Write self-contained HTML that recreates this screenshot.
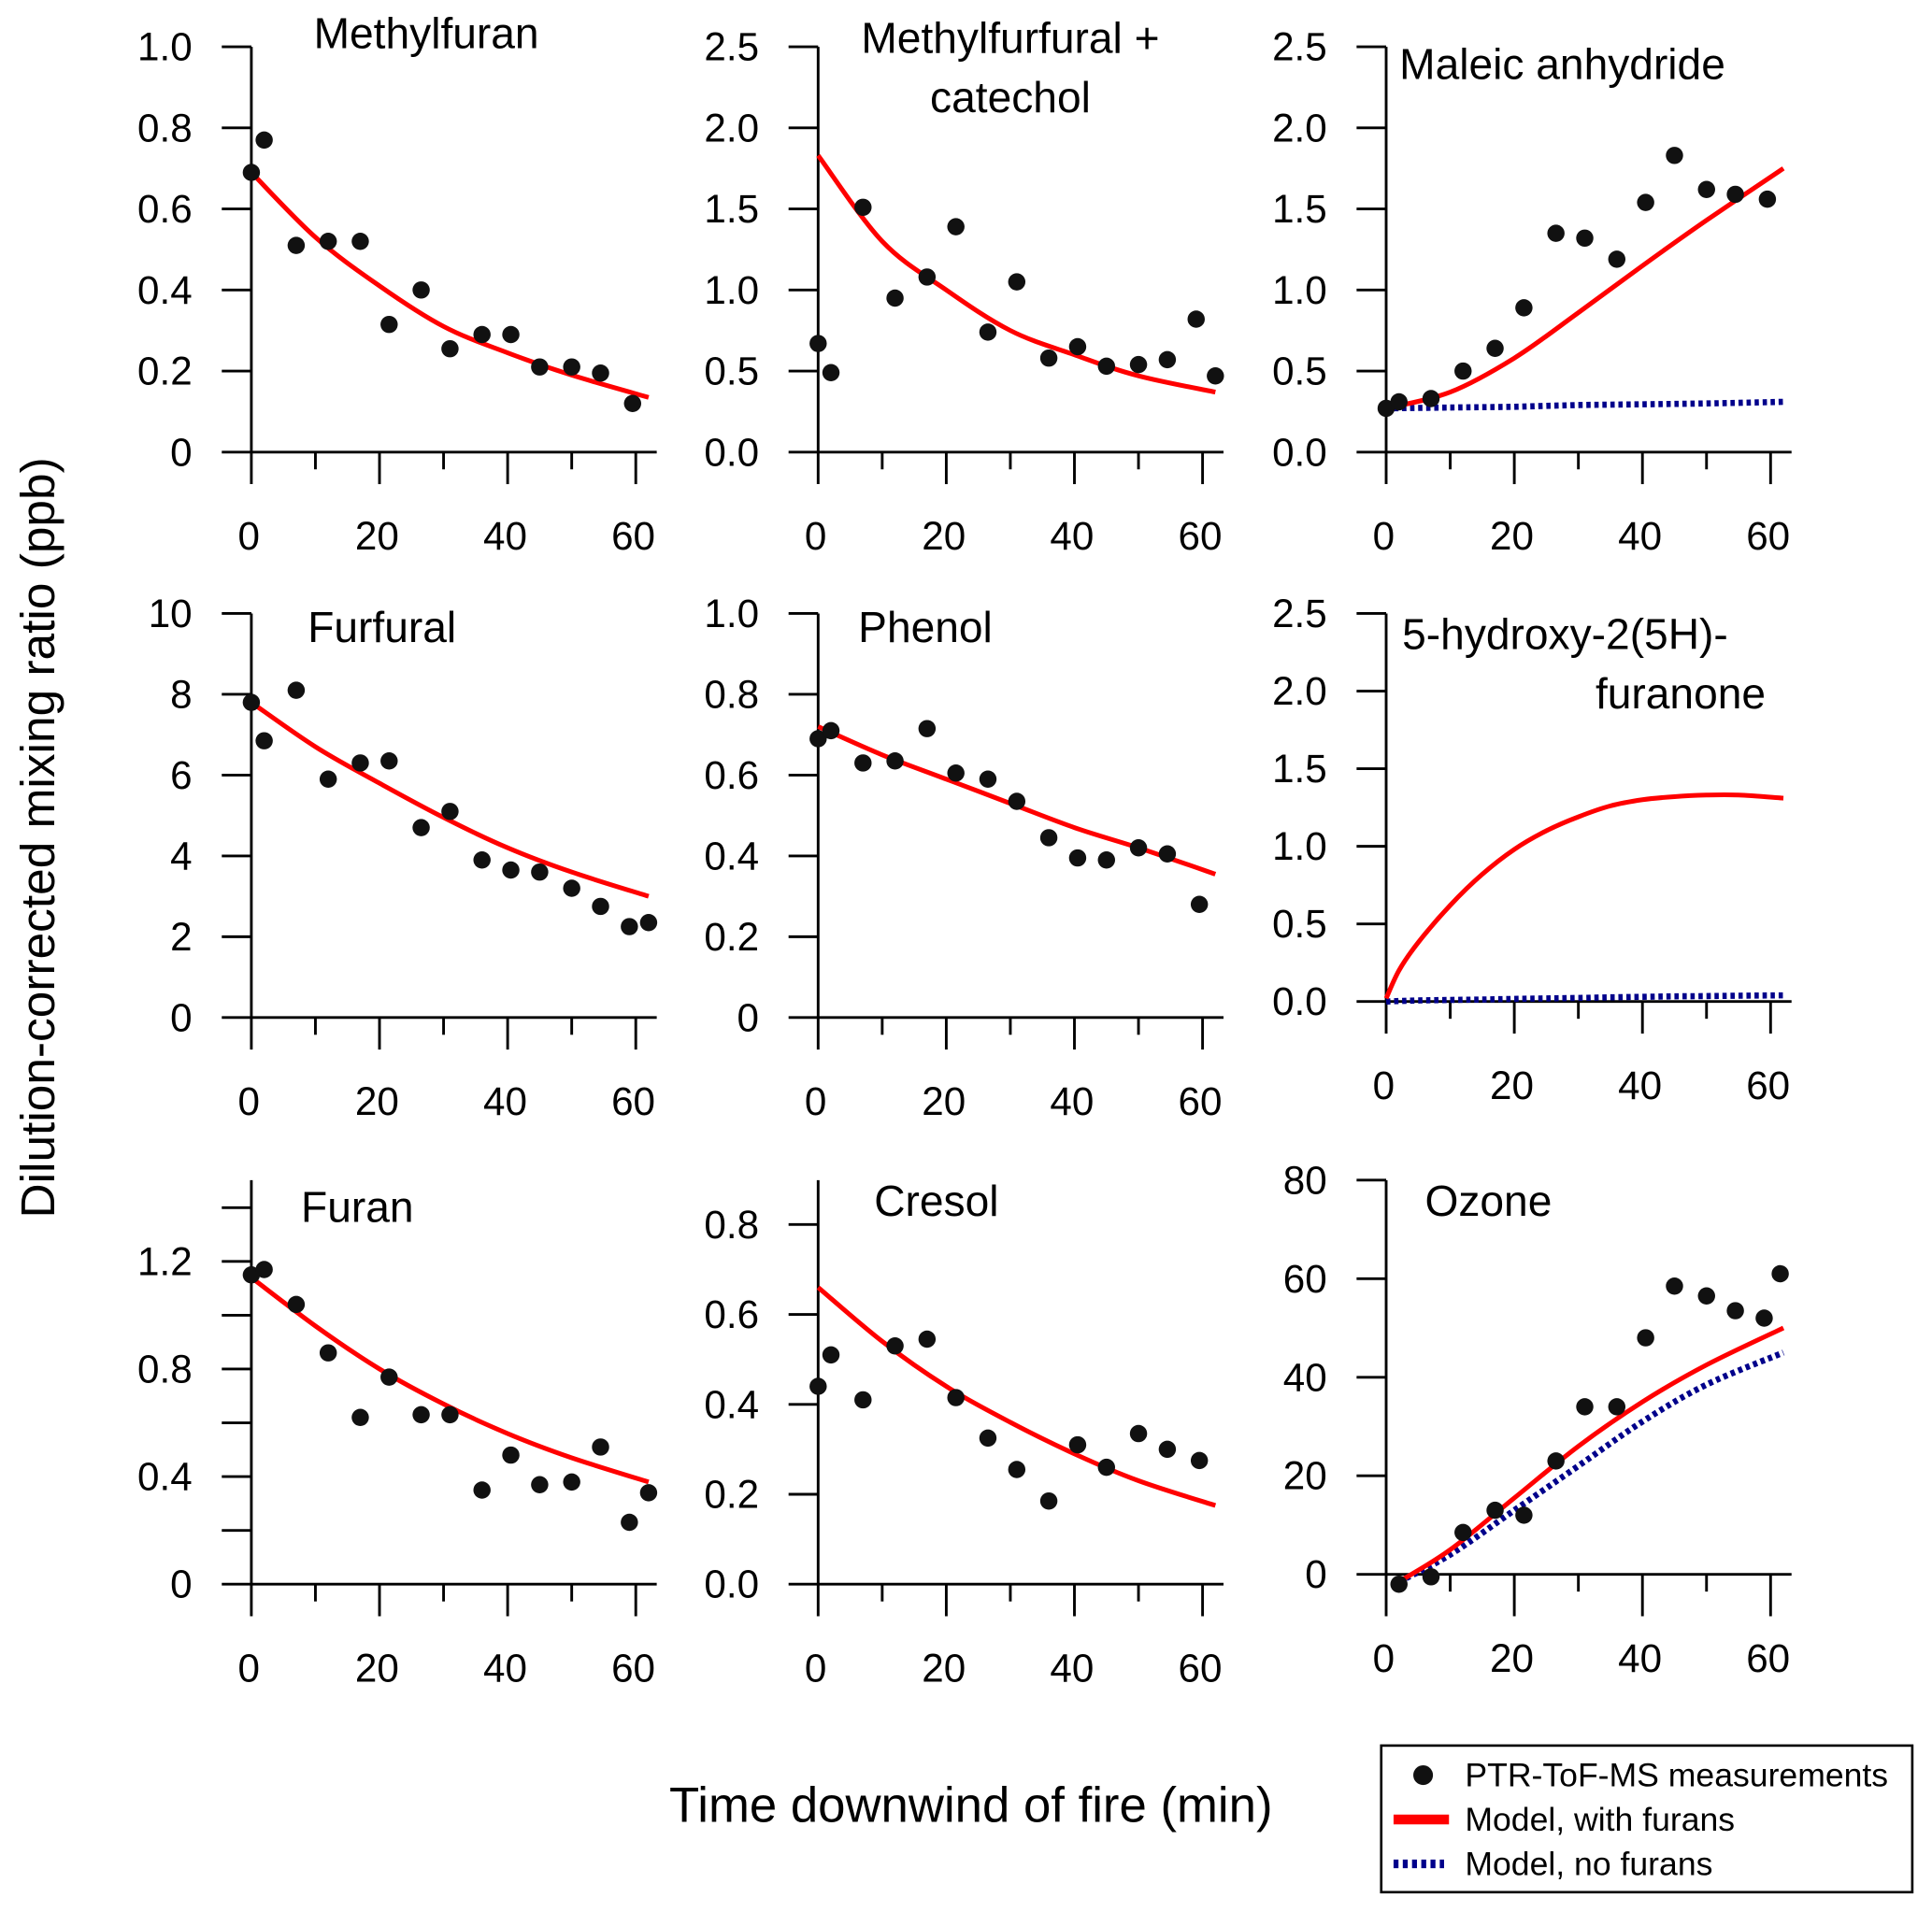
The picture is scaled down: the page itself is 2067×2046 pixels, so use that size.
<!DOCTYPE html>
<html><head><meta charset="utf-8"><style>
html,body{margin:0;padding:0;background:#fff}
svg{display:block}
text{font-family:"Liberation Sans",Arial,sans-serif;fill:#000}
</style></head><body>
<svg id="fig" width="2067" height="2046" viewBox="0 0 1568 1552.1" preserveAspectRatio="none" xmlns="http://www.w3.org/2000/svg">
<text x="0" y="0" font-size="39" text-anchor="middle" transform="translate(44,680) rotate(-90)">Dilution-corrected mixing ratio (ppb)</text>
<text x="788" y="1479" font-size="40" text-anchor="middle">Time downwind of fire (min)</text>
<g>
<rect x="1121" y="1417" width="431" height="119" fill="#fff" stroke="#000" stroke-width="2"/>
<circle cx="1155" cy="1441" r="8" fill="#111"/>
<text x="1189" y="1450" font-size="27">PTR-ToF-MS measurements</text>
<line x1="1131" y1="1477" x2="1176" y2="1477" stroke="#ff0000" stroke-width="8"/>
<text x="1189" y="1486" font-size="27">Model, with furans</text>
<line x1="1131" y1="1513" x2="1172" y2="1513" stroke="#00008b" stroke-width="7" stroke-dasharray="4,3.5"/>
<text x="1189" y="1522" font-size="27">Model, no furans</text>
</g>
</svg>
<script>
const T14=[0,2,7,12,17,21.5,26.5,31,36,40.5,45,50,54.5,59.5];
const T15=[0,2,7,12,17,21.5,26.5,31,36,40.5,45,50,54.5,59,62];
const MT=[0,10,20,30,40,50,62];

const methylfuranObs=[0.69,0.77,0.51,0.52,0.52,0.315,0.40,0.255,0.29,0.29,0.21,0.21,0.195,0.12];
const methylfuranModel=[0.69,0.53,0.41,0.31,0.245,0.19,0.135];
const methylfurfuralObs=[0.67,0.49,1.51,0.95,1.08,1.39,0.74,1.05,0.58,0.65,0.53,0.54,0.57,0.82,0.47];
const methylfurfuralModel=[1.83,1.3,1.0,0.75,0.6,0.47,0.37];
const maleicObs=[0.27,0.31,0.33,0.50,0.64,0.89,1.35,1.32,1.19,1.54,1.83,1.62,1.59,1.56];
const maleicModel=[0.27,0.37,0.58,0.86,1.15,1.43,1.75];
const maleicNoFuran=[0.27,0.275,0.28,0.29,0.295,0.30,0.31];
const furfuralObs=[7.8,6.85,8.1,5.9,6.3,6.35,4.7,5.1,3.9,3.65,3.6,3.2,2.75,2.25,2.35];
const furfuralModel=[7.8,6.7,5.8,4.95,4.2,3.6,3.0];
const phenolObs=[0.69,0.71,0.63,0.635,0.715,0.605,0.59,0.535,0.445,0.395,0.39,0.42,0.405,0.28];
const phenolModel=[0.72,0.65,0.59,0.53,0.47,0.42,0.355];
const hfT=[0,2,5,10,15,20,25,30,35,40,45,50,55,62];
const hfModel=[0.02,0.2,0.38,0.62,0.82,0.98,1.1,1.19,1.26,1.3,1.32,1.33,1.33,1.31];
const hfNoFuran=[0.0,0.003,0.007,0.01,0.013,0.017,0.02,0.023,0.027,0.03,0.033,0.035,0.037,0.04];
const furanObs=[1.15,1.17,1.04,0.86,0.62,0.77,0.63,0.63,0.35,0.48,0.37,0.38,0.51,0.23,0.34];
const furanModel=[1.14,0.96,0.8,0.67,0.56,0.47,0.38];
const cresolObs=[0.44,0.51,0.41,0.53,0.545,0.415,0.325,0.255,0.185,0.31,0.26,0.335,0.30,0.275];
const cresolModel=[0.66,0.54,0.44,0.36,0.29,0.23,0.175];
const ozoneT=[2,7,12,17,21.5,26.5,31,36,40.5,45,50,54.5,59,61.5];
const ozoneObs=[-2,-0.5,8.5,13,12,23,34,34,48,58.5,56.5,53.5,52,61];
const ozoneMT=[2,10,20,30,40,50,62];
const ozoneModel=[-1.5,5,15.5,26,35,42.5,50];
const ozoneNoFuran=[-1.5,4,13,22,31,38.5,45];

const yTicks1=["0","0.2","0.4","0.6","0.8","1.0"];
const yTicks25=["0.0","0.5","1.0","1.5","2.0","2.5"];
const yTicks10=["0","2","4","6","8","10"];
const yTicksFuran=["0","","0.4","","0.8","","1.2",""];
const yTicksCresol=["0.0","0.2","0.4","0.6","0.8"];
const yTicksOzone=["0","20","40","60","80"];
const xTickLabels=["0","20","40","60"];

const NS="http://www.w3.org/2000/svg";
const svg=document.getElementById('fig');
function mk(tag,attrs,parent){const e=document.createElementNS(NS,tag);for(const k in attrs)e.setAttribute(k,attrs[k]);(parent||svg).appendChild(e);return e;}
function smooth(pts){
  let d='M'+pts[0][0].toFixed(1)+','+pts[0][1].toFixed(1);
  for(let i=0;i<pts.length-1;i++){
    const p0=pts[Math.max(0,i-1)],p1=pts[i],p2=pts[i+1],p3=pts[Math.min(pts.length-1,i+2)];
    const c1=[p1[0]+(p2[0]-p0[0])/6,p1[1]+(p2[1]-p0[1])/6];
    const c2=[p2[0]-(p3[0]-p1[0])/6,p2[1]-(p3[1]-p1[1])/6];
    d+=' C'+c1[0].toFixed(1)+','+c1[1].toFixed(1)+' '+c2[0].toFixed(1)+','+c2[1].toFixed(1)+' '+p2[0].toFixed(1)+','+p2[1].toFixed(1);
  }
  return d;
}

const panels=[
 {id:'methylfuran',x0:204,y0:367,yTop:38,ymax:1.0,ticks:yTicks1,step:0.2,title:['Methylfuran'],tx:346,ty:[39],tAnchor:'middle',
  obsT:T14,obs:methylfuranObs,lines:[{t:MT,v:methylfuranModel,c:'red'}]},
 {id:'methylfurfural',x0:664,y0:367,yTop:38,ymax:2.5,ticks:yTicks25,step:0.5,title:['Methylfurfural +','catechol'],tx:820,ty:[43,91],tAnchor:'middle',
  obsT:T15,obs:methylfurfuralObs,lines:[{t:MT,v:methylfurfuralModel,c:'red'}]},
 {id:'maleic-anhydride',x0:1125,y0:367,yTop:38,ymax:2.5,ticks:yTicks25,step:0.5,title:['Maleic anhydride'],tx:1268,ty:[64],tAnchor:'middle',
  obsT:T14,obs:maleicObs,lines:[{t:MT,v:maleicNoFuran,c:'blue'},{t:MT,v:maleicModel,c:'red'}]},
 {id:'furfural',x0:204,y0:826,yTop:498,ymax:10,ticks:yTicks10,step:2,title:['Furfural'],tx:310,ty:[521],tAnchor:'middle',
  obsT:T15,obs:furfuralObs,lines:[{t:MT,v:furfuralModel,c:'red'}]},
 {id:'phenol',x0:664,y0:826,yTop:498,ymax:1.0,ticks:yTicks1,step:0.2,title:['Phenol'],tx:751,ty:[521],tAnchor:'middle',
  obsT:T14,obs:phenolObs,lines:[{t:MT,v:phenolModel,c:'red'}]},
 {id:'hydroxyfuranone',x0:1125,y0:813,yTop:498,ymax:2.5,ticks:yTicks25,step:0.5,title:['5-hydroxy-2(5H)-','furanone'],tx:[1138,1433],ty:[527,575],tAnchor:['start','end'],
  obsT:[],obs:[],lines:[{t:hfT,v:hfNoFuran,c:'blue'},{t:hfT,v:hfModel,c:'red'}]},
 {id:'furan',x0:204,y0:1286,yTop:1024,ymax:1.2,ticks:yTicksFuran,step:0.2,axisTop:958,title:['Furan'],tx:290,ty:[992],tAnchor:'middle',
  obsT:T15,obs:furanObs,lines:[{t:MT,v:furanModel,c:'red'}]},
 {id:'cresol',x0:664,y0:1286,yTop:994,ymax:0.8,ticks:yTicksCresol,step:0.2,axisTop:958,title:['Cresol'],tx:760,ty:[987],tAnchor:'middle',
  obsT:T14,obs:cresolObs,lines:[{t:MT,v:cresolModel,c:'red'}]},
 {id:'ozone',x0:1125,y0:1278,yTop:958,ymax:80,ticks:yTicksOzone,step:20,title:['Ozone'],tx:1208,ty:[987],tAnchor:'middle',
  obsT:ozoneT,obs:ozoneObs,lines:[{t:ozoneMT,v:ozoneNoFuran,c:'blue'},{t:ozoneMT,v:ozoneModel,c:'red'}],xAxisBottom:1312,xLabelY:1357}
];
const XS=312/60;
panels.forEach(p=>{
  const g=mk('g',{});
  
  
  const sx=t=>p.x0+t*XS;
  const sy=v=>p.y0-(v/p.ymax)*(p.y0-p.yTop);
  const top=p.axisTop||p.yTop;
  const bot=p.xAxisBottom||(p.y0+26);
  const ya=mk('line',{x1:p.x0,y1:top,x2:p.x0,y2:bot,stroke:'#000','stroke-width':2.2},g);
  
  
  const xa=mk('line',{x1:p.x0-24,y1:p.y0,x2:p.x0+329,y2:p.y0,stroke:'#000','stroke-width':2.2},g);
  
  
  p.ticks.forEach((lab,i)=>{
    const v=i*p.step, y=sy(v);
    if(i>0) mk('line',{x1:p.x0-24,y1:y,x2:p.x0,y2:y,stroke:'#000','stroke-width':2.2},g);
    if(lab){const tt=mk('text',{x:p.x0-48,y:y+11,'font-size':32,'text-anchor':'end'},g);tt.textContent=lab;
      
      }
  });
  const labY=p.xLabelY||(p.y0+79);
  for(let t=10;t<=60;t+=10){
    const major=(t%20===0);
    mk('line',{x1:sx(t),y1:p.y0,x2:sx(t),y2:p.y0+(major?bot-p.y0:14),stroke:'#000','stroke-width':2.2},g);
  }
  xTickLabels.forEach((lab,i)=>{
    const tt=mk('text',{x:sx(i*20)-2,y:labY,'font-size':32,'text-anchor':'middle'},g);tt.textContent=lab;
    
    
  });
  p.title.forEach((s,i)=>{
    const tx=Array.isArray(p.tx)?p.tx[i]:p.tx, an=Array.isArray(p.tAnchor)?p.tAnchor[i]:p.tAnchor;
    const tt=mk('text',{x:tx,y:p.ty[i],'font-size':35,'text-anchor':an},g);tt.textContent=s;
    
    
  });
  p.lines.forEach(L=>{
    const pts=L.t.map((t,i)=>[sx(t),sy(L.v[i])]);
    const pl=mk('path',{d:smooth(pts),fill:'none',stroke:L.c==='red'?'#ff0000':'#00008b','stroke-width':L.c==='red'?3.8:5,'stroke-dasharray':L.c==='red'?'none':'3.5,3','stroke-linejoin':'round'},g);
    
    
  });
  p.obs.forEach((v,i)=>{
    const c=mk('circle',{cx:sx(p.obsT[i]),cy:sy(v),r:7,fill:'#111'},g);
    
    
  });
});
</script>
</body></html>
